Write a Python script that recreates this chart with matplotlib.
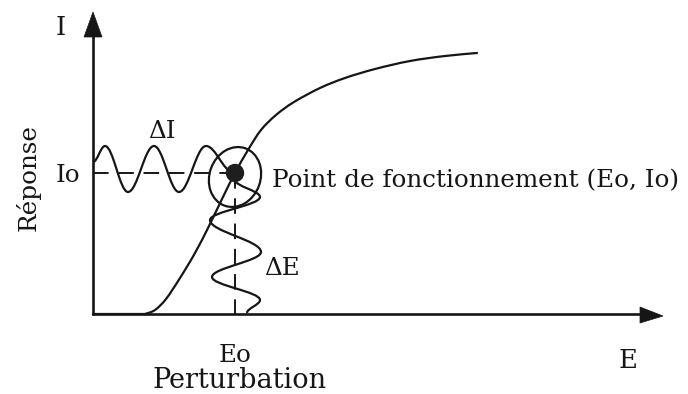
import matplotlib
matplotlib.use("Agg")
import matplotlib.pyplot as plt
from matplotlib.path import Path
from matplotlib.patches import PathPatch, Ellipse, Circle, Polygon

# ---- data (E = perturbation, I = response) ----
curve_E = [53, 63, 74, 88, 103, 117, 130, 143, 156, 169, 184, 202, 228, 253, 283, 318, 353, 385]
curve_I = [0, 4, 15, 36, 61, 88, 115, 141, 164, 184, 199, 212, 226, 236, 245, 253, 258, 261]

# response oscillation (ΔI): extrema along E
waveI_E = [1, 13, 36, 62, 87, 114, 141]
waveI_I = [152, 168, 122, 168, 122, 168, 142]

# perturbation oscillation (ΔE): extrema along I
waveE_E = [143, 168, 118, 169, 120, 168, 155]
waveE_I = [134, 117, 94, 62, 37, 14, 1]

E0 = 143
I0 = 141

labels = {
    "axis_I": "I",
    "axis_E": "E",
    "I0": "Io",
    "E0": "Eo",
    "dI": "ΔI",
    "dE": "ΔE",
    "ylabel": "Réponse",
    "xlabel": "Perturbation",
    "point": "Point de fonctionnement (Eo, Io)",
}

INK = "#161616"
FONT = ["DejaVu Serif"]

fig = plt.figure(figsize=(6.88, 3.94), dpi=100)
ax = fig.add_axes([0, 0, 1, 1])
ax.set_xlim(-92, 596)
ax.set_ylim(-80, 314)
ax.axis("off")

K = 0.3634


def smooth_path(xs, ys, along_x=True):
    verts = [(xs[0], ys[0])]
    codes = [Path.MOVETO]
    for i in range(len(xs) - 1):
        xa, ya, xb, yb = xs[i], ys[i], xs[i + 1], ys[i + 1]
        if along_x:
            d = xb - xa
            c1 = (xa + K * d, ya)
            c2 = (xb - K * d, yb)
        else:
            d = yb - ya
            c1 = (xa, ya + K * d)
            c2 = (xb, yb - K * d)
        verts += [c1, c2, (xb, yb)]
        codes += [Path.CURVE4] * 3
    return Path(verts, codes)


def catmull(xs, ys):
    pts = list(zip(xs, ys))
    verts = [pts[0]]
    codes = [Path.MOVETO]
    n = len(pts)
    for i in range(n - 1):
        p0 = pts[i - 1] if i > 0 else pts[i]
        p1 = pts[i]
        p2 = pts[i + 1]
        p3 = pts[i + 2] if i + 2 < n else pts[i + 1]
        c1 = (p1[0] + (p2[0] - p0[0]) / 6, p1[1] + (p2[1] - p0[1]) / 6)
        c2 = (p2[0] - (p3[0] - p1[0]) / 6, p2[1] - (p3[1] - p1[1]) / 6)
        verts += [c1, c2, p2]
        codes += [Path.CURVE4] * 3
    return Path(verts, codes)


LW = 1.6

# axes lines with arrows
ax.plot([1, 1], [-1, 280], color=INK, lw=1.9, solid_capstyle="butt")
ax.add_patch(Polygon([[1, 302], [-8, 277], [10, 277]], closed=True, color=INK, lw=0.5))
ax.plot([0, 550], [0, 0], color=INK, lw=1.9, solid_capstyle="butt")
ax.add_patch(Polygon([[571, -2], [548, 7], [548, -9]], closed=True, color=INK, lw=0.5))

# characteristic curve (flat foot on the axis then sigmoid)
ax.plot([1, curve_E[0]], [0, 0], color=INK, lw=LW)
ax.add_patch(PathPatch(catmull(curve_E, curve_I), fill=False, edgecolor=INK, lw=LW, capstyle="round"))

# dashed guides
ax.plot([1, E0], [I0, I0], color=INK, lw=1.4, dashes=(8, 5))
ax.plot([E0, E0], [I0, 0], color=INK, lw=1.4, dashes=(8, 5))

# oscillations
ax.add_patch(PathPatch(smooth_path(waveI_E, waveI_I, True), fill=False, edgecolor=INK, lw=LW))
ax.add_patch(PathPatch(smooth_path(waveE_E, waveE_I, False), fill=False, edgecolor=INK, lw=LW))

# ellipse around the operating point
ax.add_patch(Ellipse((E0, I0 - 4), width=51, height=61, angle=-20, fill=False, edgecolor=INK, lw=LW))

# operating point
ax.add_patch(Circle((E0, I0), 8.5, color="#1e1e1e", zorder=5))

# texts
fig.canvas.draw()
renderer = fig.canvas.get_renderer()
tp = ax.text(180, 127, labels["point"], ha="left", va="baseline", family=FONT, fontsize=16, color=INK)
w = tp.get_window_extent(renderer).width
fs = 16 * 408 / w
tp.set_fontsize(fs)

ax.text(-31, 279, labels["axis_I"], ha="center", va="baseline", family=FONT, fontsize=fs * 1.05, color=INK)
ax.text(-24, 132, labels["I0"], ha="center", va="baseline", family=FONT, fontsize=fs, color=INK)
ax.text(-64, 137, labels["ylabel"], ha="center", va="center", rotation=90, family=FONT, fontsize=fs, color=INK)
ax.text(70, 176, labels["dI"], ha="center", va="baseline", family=FONT, fontsize=fs, color=INK)
ax.text(190, 39, labels["dE"], ha="center", va="baseline", family=FONT, fontsize=fs, color=INK)
ax.text(143, -48, labels["E0"], ha="center", va="baseline", family=FONT, fontsize=fs, color=INK)
ax.text(148, -74, labels["xlabel"], ha="center", va="baseline", family=FONT, fontsize=fs * 1.1, color=INK)
ax.text(536, -54, labels["axis_E"], ha="center", va="baseline", family=FONT, fontsize=fs * 1.05, color=INK)

fig.savefig("out.png", dpi=100)
